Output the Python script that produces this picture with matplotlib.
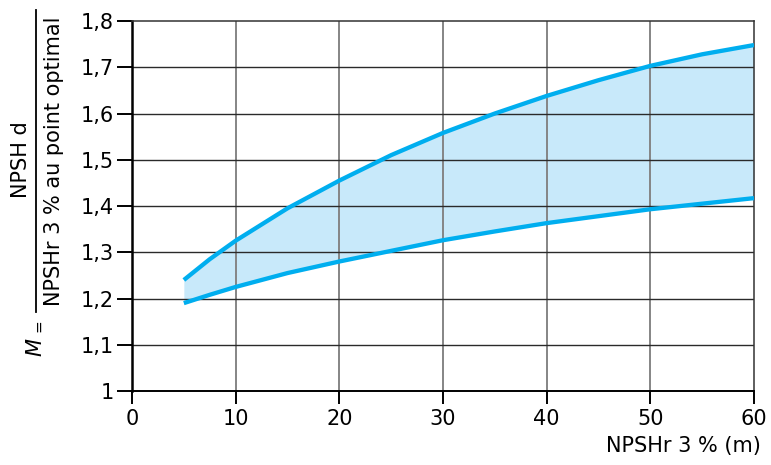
import matplotlib
matplotlib.use("Agg")
import matplotlib.pyplot as plt
from matplotlib.lines import Line2D
from matplotlib.ticker import FuncFormatter

# NPSHr 3 % (m)
npshr = [5, 7.5, 10, 15, 20, 25, 30, 35, 40, 45, 50, 55, 60]
# Margin ratio M, upper and lower bounds of the band
m_upper = [1.24, 1.285, 1.325, 1.395, 1.455, 1.51, 1.558, 1.60, 1.638, 1.672, 1.703, 1.728, 1.748]
m_lower = [1.19, 1.208, 1.225, 1.255, 1.28, 1.303, 1.326, 1.345, 1.363, 1.378, 1.393, 1.405, 1.417]

x_ticks = [0, 10, 20, 30, 40, 50, 60]
y_ticks = [1.0, 1.1, 1.2, 1.3, 1.4, 1.5, 1.6, 1.7, 1.8]

LINE_COLOR = "#00AEEF"
FILL_COLOR = "#C8E9FA"
FS = 15

plt.rcParams["font.family"] = ["DejaVu Sans"]

W, H = 771, 465
fig = plt.figure(figsize=(W / 100, H / 100), dpi=100)
ax = fig.add_axes([132 / W, 1 - 391 / H, (754 - 132) / W, (391 - 21) / H])

ax.fill_between(npshr, m_lower, m_upper, color=FILL_COLOR, linewidth=0, zorder=1)
ax.plot(npshr, m_upper, color=LINE_COLOR, linewidth=3.1, solid_capstyle="butt", zorder=3)
ax.plot(npshr, m_lower, color=LINE_COLOR, linewidth=3.1, solid_capstyle="butt", zorder=3)

ax.set_xlim(0, 60)
ax.set_ylim(1.0, 1.8)
ax.set_xticks(x_ticks)
ax.set_yticks(y_ticks)


def comma_fmt(v, pos):
    s = f"{v:.1f}".rstrip("0").rstrip(".")
    return s.replace(".", ",")


ax.yaxis.set_major_formatter(FuncFormatter(comma_fmt))
ax.xaxis.set_major_formatter(FuncFormatter(lambda v, pos: f"{v:.0f}"))

# grid: grey verticals, dark horizontals
for xv in x_ticks[1:-1]:
    ax.axvline(xv, color="#858585", linewidth=1.4, zorder=2)
for yv in y_ticks[1:-1]:
    ax.axhline(yv, color="#2a2a2a", linewidth=1.0, zorder=2)

for side in ("top", "right"):
    ax.spines[side].set_color("#333333")
    ax.spines[side].set_linewidth(1.1)
ax.spines["left"].set_color("black")
ax.spines["left"].set_linewidth(1.8)
ax.spines["bottom"].set_color("black")
ax.spines["bottom"].set_linewidth(1.4)

ax.tick_params(axis="x", direction="out", length=9, width=1.4, pad=4, labelsize=FS)
ax.tick_params(axis="y", direction="out", length=11, width=1.4, pad=2, labelsize=FS)

fig.text(761 / W, 1 - 446 / H, "NPSHr 3 % (m)", ha="right", va="center", fontsize=FS)

# y-axis label written as a fraction
fig.text(21 / W, 1 - 160 / H, "NPSH d", rotation=90, ha="center", va="center", fontsize=FS)
fig.text(54 / W, 1 - 161 / H, "NPSHr 3 % au point optimal", rotation=90,
         ha="center", va="center", fontsize=FS)
fig.add_artist(Line2D([36 / W, 36 / W], [1 - 10 / H, 1 - 312 / H],
                      transform=fig.transFigure, color="black", linewidth=1.3))
fig.text(35 / W, 1 - 347 / H, "M", rotation=90, ha="center", va="center",
         fontsize=FS, style="italic")
fig.text(39 / W, 1 - 326 / H, "=", rotation=90, ha="center", va="center", fontsize=11)

fig.savefig("out.png", dpi=100, facecolor="white")
